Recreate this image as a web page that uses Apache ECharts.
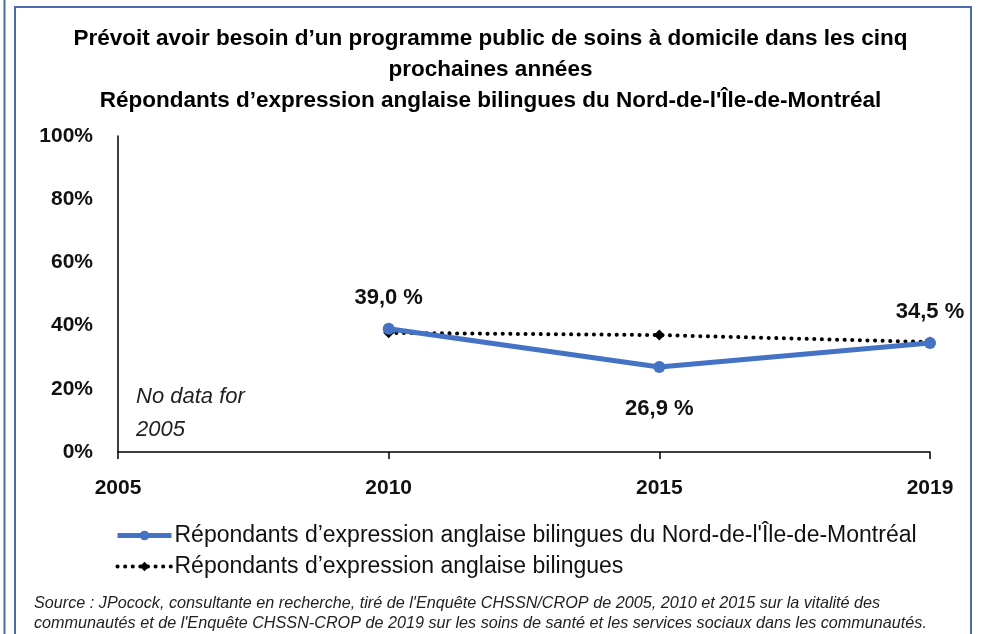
<!DOCTYPE html>
<html>
<head>
<meta charset="utf-8">
<script src="https://cdn.jsdelivr.net/npm/echarts@6/dist/echarts.min.js"></script>
<style>
html,body{margin:0;padding:0;background:#fff;}
#chart{width:981px;height:634px;}
</style>
</head>
<body>
<div id="chart"></div>
<script>
// Survey years on the horizontal axis
const years = ['2005', '2010', '2015', '2019'];
// Share (%) expecting to need a public home-care program within five years
const nordIleMontreal = [null, 39.0, 26.9, 34.5];
const bilinguesQuebec = [null, 37.7, 37.0, 34.8];
// Which points carry a value label, and where
const labelPositions = [null, 'top', 'bottom', 'top'];
const yTicks = [0, 20, 40, 60, 80, 100];

const seriesNames = [
  "Répondants d\u2019expression anglaise bilingues du Nord-de-l'Île-de-Montréal",
  "Répondants d\u2019expression anglaise bilingues"
];

const titleLines = [
  "Prévoit avoir besoin d\u2019un programme public de soins à domicile dans les cinq",
  "prochaines années",
  "Répondants d\u2019expression anglaise bilingues du Nord-de-l'Île-de-Montréal"
];
const sourceLines = [
  "Source : JPocock, consultante en recherche, tiré de l'Enquête CHSSN/CROP de 2005, 2010 et 2015 sur la vitalité des",
  "communautés et de l'Enquête CHSSN-CROP de 2019 sur les soins de santé et les services sociaux dans les communautés."
];

const FONT = 'Liberation Sans, Arial, sans-serif';
const frameColor = '#4a6aab';
const blue = '#4472c4';

const chart = echarts.init(document.getElementById('chart'), null, {renderer: 'canvas'});

const fmt = v => v.toFixed(1).replace('.', ',') + ' %';

chart.setOption({
  animation: false,
  backgroundColor: '#ffffff',
  title: titleLines.map((t, i) => ({
    text: t,
    left: 'center',
    top: 22 + i * 31,
    textStyle: {fontFamily: FONT, fontSize: 22.5, fontWeight: 'bold', color: '#000'}
  })),
  grid: {left: 118, right: 51, top: 136, bottom: 182, containLabel: false},
  xAxis: {
    type: 'category',
    data: years,
    boundaryGap: false,
    axisLine: {lineStyle: {color: '#000', width: 1.5}},
    axisTick: {show: true, alignWithLabel: true, length: 7, lineStyle: {color: '#000', width: 1.5}},
    axisLabel: {fontFamily: FONT, fontSize: 21, fontWeight: 'bold', color: '#111', margin: 26}
  },
  yAxis: {
    type: 'value',
    min: yTicks[0],
    max: yTicks[yTicks.length - 1],
    interval: yTicks[1] - yTicks[0],
    axisLine: {show: true, lineStyle: {color: '#000', width: 1.5}},
    axisTick: {show: false},
    splitLine: {show: false},
    axisLabel: {fontFamily: FONT, fontSize: 21, fontWeight: 'bold', color: '#111', margin: 25, formatter: v => v + '%'}
  },
  legend: {
    orient: 'vertical',
    left: 110,
    top: 519,
    itemWidth: 54,
    itemHeight: 12,
    itemGap: 8,
    textStyle: {fontFamily: FONT, fontSize: 23, color: '#111', padding: [0, 0, 0, -2]},
    data: [
      {name: seriesNames[0], lineStyle: {width: 5, color: blue}, itemStyle: {color: blue}},
      {name: seriesNames[1], lineStyle: {width: 4, color: '#000', type: [0.1, 7.5], cap: 'round'}, itemStyle: {color: '#000'}}
    ]
  },
  series: [
    {
      name: seriesNames[1],
      type: 'line',
      data: bilinguesQuebec,
      symbol: 'diamond',
      symbolSize: 11,
      itemStyle: {color: '#000'},
      lineStyle: {color: '#000', width: 4, type: [0.1, 7.5], cap: 'round'},
      z: 2
    },
    {
      name: seriesNames[0],
      type: 'line',
      data: nordIleMontreal.map((v, i) => ({
        value: v,
        label: labelPositions[i] ? {show: true, position: labelPositions[i], distance: labelPositions[i] === 'top' ? 14 : 25} : {show: false}
      })),
      symbol: 'circle',
      symbolSize: 12,
      itemStyle: {color: blue},
      lineStyle: {color: blue, width: 5},
      label: {
        fontFamily: FONT, fontSize: 22, fontWeight: 'bold', color: '#111',
        formatter: p => fmt(p.value)
      },
      z: 3
    }
  ],
  graphic: [
    // page frame
    {type: 'line', shape: {x1: 4.5, y1: 0, x2: 4.5, y2: 634}, style: {stroke: frameColor, lineWidth: 2}},
    {type: 'polyline', shape: {points: [[15, 640], [15, 7], [971, 7], [971, 640]]}, style: {stroke: frameColor, lineWidth: 2, fill: null}},
    // note about the missing first survey year
    {type: 'text', left: 136, top: 380, style: {text: 'No data for\n2005', fontFamily: FONT, fontSize: 22, fontStyle: 'italic', fill: '#222', lineHeight: 33}},
    // source note
    {type: 'text', left: 34, top: 593, style: {text: sourceLines.join('\n'), fontFamily: FONT, fontSize: 16.2, fontStyle: 'italic', fill: '#222', lineHeight: 20}}
  ]
});
</script>
</body>
</html>
